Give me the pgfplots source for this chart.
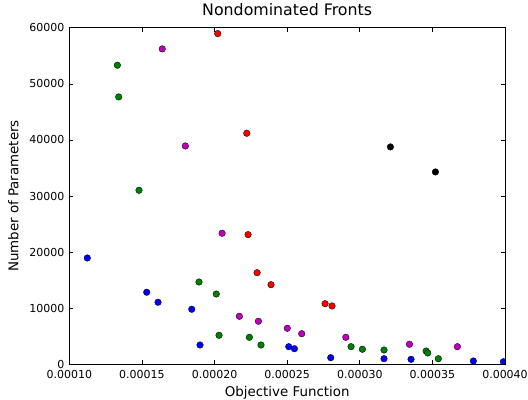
\documentclass[border=0pt]{standalone}
\usepackage{pgfplots}
\pgfplotsset{compat=1.18}
\usepackage{fontspec}
\setmainfont{DejaVu Sans}
\definecolor{mplb}{rgb}{0,0,1}
\definecolor{mplg}{rgb}{0,0.5,0}
\definecolor{mplr}{rgb}{1,0,0}
\definecolor{mplm}{rgb}{0.75,0,0.75}
\definecolor{mplk}{rgb}{0,0,0}
\pgfplotsset{
  front/.style={only marks, mark=*, mark size=3.3bp,
    mark options={draw=black, line width=0.35bp, fill=#1}},
}
\begin{document}
\begin{tikzpicture}
\begin{axis}[
  at={(0,0)}, anchor=south west,
  scale only axis, width=435.7bp, height=336.6bp,
  xmin=0.0001, xmax=0.0004, ymin=0, ymax=60000,
  xtick={0.0001,0.00015,0.0002,0.00025,0.0003,0.00035,0.0004},
  xticklabels={0.00010,0.00015,0.00020,0.00025,0.00030,0.00035,0.00040},
  ytick={0,10000,20000,30000,40000,50000,60000},
  yticklabels={0,10000,20000,30000,40000,50000,60000},
  scaled x ticks=false, scaled y ticks=false,
  tick align=inside, tick pos=both,
  major tick length=4bp,
  axis line style={line width=0.8bp, black},
  tick style={line width=0.6bp, black},
  ticklabel style={font=\fontsize{11bp}{13bp}\selectfont, text=black},
  xticklabel style={yshift=-3bp},
  yticklabel style={xshift=-1.5bp},
  label style={font=\fontsize{13.4bp}{16bp}\selectfont},
  xlabel={Objective Function},
  xlabel style={at={(axis description cs:0.5,-0.0942)}, anchor=base},
  ylabel={Number of Parameters},
  ylabel style={at={(axis description cs:-0.1166,0.5)}, anchor=base},
  title={Nondominated Fronts},
  title style={at={(axis description cs:0.5,1.0178)}, anchor=base,
    font=\fontsize{15.8bp}{19bp}\selectfont},
  axis on top=true,
  clip marker paths=true,
]
% blue front
\addplot[front=mplb] coordinates {
  (0.0001124,18950) (0.0001533,12840) (0.0001611,11060) (0.0001843,9810)
  (0.0001900,3440) (0.0002511,3140) (0.0002550,2780) (0.0002800,1180)
  (0.0003167,1000) (0.0003353,890) (0.0003782,590) (0.0003989,460)};
% green front
\addplot[front=mplg] coordinates {
  (0.0001331,53310) (0.0001340,47660) (0.0001480,31020) (0.0001893,14670)
  (0.0002012,12530) (0.0002031,5170) (0.0002240,4810) (0.0002320,3440)
  (0.0002940,3140) (0.0003018,2680) (0.0003167,2550) (0.0003457,2370)
  (0.0003468,2020) (0.0003541,1000)};
% magenta front
\addplot[front=mplm] coordinates {
  (0.0001640,56220) (0.0001799,38920) (0.0002052,23360) (0.0002171,8560)
  (0.0002302,7670) (0.0002501,6420) (0.0002600,5460) (0.0002904,4810)
  (0.0003342,3570) (0.0003672,3140)};
% red front
\addplot[front=mplr] coordinates {
  (0.0002022,58950) (0.0002222,41190) (0.0002231,23110) (0.0002293,16330)
  (0.0002389,14190) (0.0002761,10800) (0.0002809,10400)};
% black front
\addplot[front=mplk] coordinates {
  (0.0003211,38750) (0.0003521,34290)};
\end{axis}
\pgfresetboundingbox
\path (-69.3bp,-35.7bp) rectangle (458.7bp,364.3bp);
\end{tikzpicture}
\end{document}
